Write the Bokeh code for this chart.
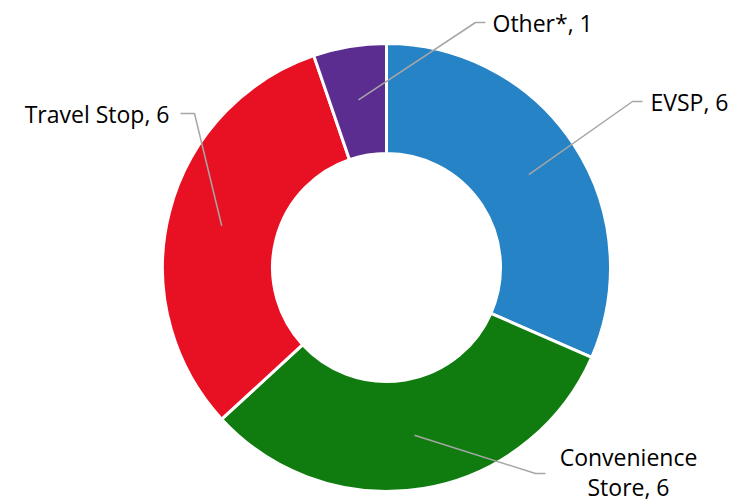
import math
from bokeh.plotting import figure
from bokeh.models import Range1d
from bokeh.embed import file_html
from bokeh.resources import INLINE
from bokeh.core.properties import value

categories = ["EVSP", "Convenience Store", "Travel Stop", "Other*"]
counts = [6, 6, 6, 1]
colors = ["#2683C6", "#107C10", "#E81123", "#5C2D91"]
label_lines = [["EVSP, 6"], ["Convenience", "Store, 6"], ["Travel Stop, 6"], ["Other*, 1"]]

W, H = 740, 502
p = figure(width=W, height=H, output_backend="svg", toolbar_location=None,
           x_range=Range1d(0, W), y_range=Range1d(0, H), min_border=0)
p.axis.visible = False
p.grid.visible = False
p.outline_line_color = None

def to_data(xi, yi):
    return xi, H - yi

cx, cy = to_data(386, 267)
R_out, R_in = 224, 114

total = sum(counts)
starts, ends, mids = [], [], []
a = math.pi / 2
for c in counts:
    sweep = c / total * 2 * math.pi
    starts.append(a)
    ends.append(a - sweep)
    mids.append(a - sweep / 2)
    a -= sweep

p.annular_wedge(x=[cx] * 4, y=[cy] * 4, inner_radius=R_in, outer_radius=R_out,
                start_angle=ends, end_angle=starts, fill_color=colors,
                line_color="white", line_width=3)

# leader line elbows and tails (image coordinates)
elbows = [(632, 101), (535, 473), (194, 113), (475, 22)]
tails = [(642, 101), (545, 473), (180, 113), (485, 22)]
anchor_r = 170
for i in range(4):
    ax = cx + anchor_r * math.cos(mids[i])
    ay = cy + anchor_r * math.sin(mids[i])
    ex, ey = to_data(*elbows[i])
    tx, ty = to_data(*tails[i])
    p.line([ax, ex, tx], [ay, ey, ty], line_color="#A6A6A6", line_width=1.5)

font = value("Open Sans")
fs = "23px"
def label(xi, yi, txt, align):
    x, y = to_data(xi, yi)
    p.text([x], [y], text=[txt], text_font=font, text_font_size=fs,
           text_align=align, text_baseline="middle", text_color="#000000")

label(650, 101, label_lines[0][0], "left")
label(628, 456, label_lines[1][0], "center")
label(628, 486, label_lines[1][1], "center")
label(169, 113, label_lines[2][0], "right")
label(492, 22, label_lines[3][0], "left")

open("out.html", "w").write(file_html(p, INLINE))
